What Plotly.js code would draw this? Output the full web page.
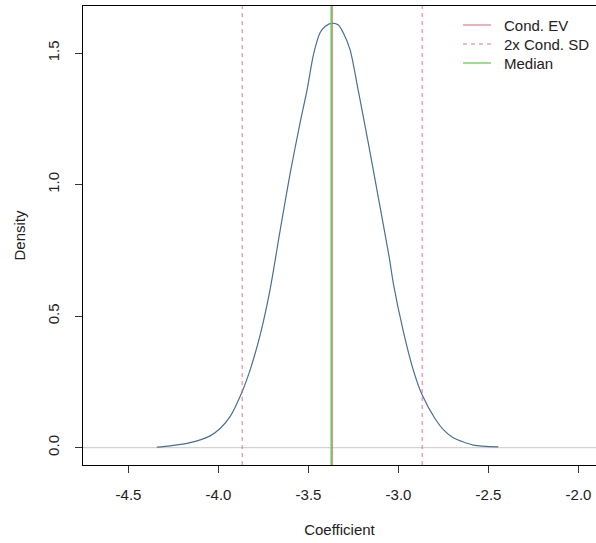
<!DOCTYPE html>
<html>
<head>
<meta charset="utf-8">
<script src="https://cdn.plot.ly/plotly-3.0.1.min.js"></script>
<style>html,body{margin:0;padding:0;background:#fff;}#chart{width:596px;height:543px;}</style>
</head>
<body>
<div id="chart"></div>
<script>
// Density curve
var coefX = [-4.343, -4.269, -4.158, -4.047, -3.990, -3.936, -3.869, -3.825, -3.769, -3.714, -3.658, -3.603, -3.547, -3.508, -3.473, -3.436, -3.408, -3.371, -3.334, -3.307, -3.269, -3.223, -3.158, -3.103, -3.051, -3.029, -2.973, -2.918, -2.871, -2.797, -2.750, -2.696, -2.585, -2.446];
var densY = [0.002, 0.007, 0.019, 0.045, 0.074, 0.118, 0.213, 0.295, 0.428, 0.600, 0.825, 1.040, 1.235, 1.360, 1.493, 1.577, 1.601, 1.614, 1.607, 1.577, 1.512, 1.355, 1.122, 0.916, 0.721, 0.625, 0.441, 0.295, 0.204, 0.110, 0.068, 0.038, 0.010, 0.003];
var condEV = -3.368;
var condSD = 0.25;
var median = -3.374;
var legendNames = ["Cond. EV", "2x Cond. SD", "Median"];
var xTickVals = [-4.5, -4.0, -3.5, -3.0, -2.5, -2.0];
var xTickText = ["-4.5", "-4.0", "-3.5", "-3.0", "-2.5", "-2.0"];
var yTickVals = [0, 0.5, 1.0, 1.5];
var yTickText = ["0.0", "0.5", "1.0", "1.5"];
var xRange = [-4.753, -1.903];
var yRange = [-0.0658, 1.679];

var font = {family: "Liberation Sans, Arial, sans-serif", size: 15, color: "#222"};
var evColor = "rgba(223,83,107,0.7)";
var sdColor = "rgba(223,83,107,0.55)";
var medColor = "#62cf4f";

var traces = [
  {x: coefX, y: densY, type: "scatter", mode: "lines", line: {color: "#4a6f96", width: 1.2, shape: "spline", smoothing: 0.7}, showlegend: false, hoverinfo: "skip"},
  {x: [condEV, condEV], y: yRange, type: "scatter", mode: "lines", name: legendNames[0], showlegend: false, line: {color: evColor, width: 1.3}},
  {x: [condEV - 2 * condSD, condEV - 2 * condSD, null, condEV + 2 * condSD, condEV + 2 * condSD], y: [yRange[0], yRange[1], null, yRange[0], yRange[1]], type: "scatter", mode: "lines", name: legendNames[1], showlegend: false, line: {color: sdColor, width: 1.5, dash: "4px,4px"}},
  {x: [median, median], y: yRange, type: "scatter", mode: "lines", name: legendNames[2], showlegend: false, line: {color: medColor, width: 1.5}}
];

// manual legend (R-style)
var legY = [0.9586, 0.9172, 0.8758];
var legStyles = [
  {color: evColor, width: 1.3},
  {color: sdColor, width: 1.5, dash: "4px,4px"},
  {color: medColor, width: 1.3}
];
var shapes = [
  {type: "line", xref: "paper", x0: 0, x1: 1, yref: "y", y0: 0, y1: 0, line: {color: "#d3d3d3", width: 1.2}, layer: "below"}
];
var annotations = [];
for (var i = 0; i < legendNames.length; i++) {
  shapes.push({type: "line", xref: "paper", yref: "paper", x0: 0.7407, x1: 0.7953, y0: legY[i], y1: legY[i], line: legStyles[i]});
  annotations.push({xref: "paper", yref: "paper", x: 0.817, y: legY[i], xanchor: "left", yanchor: "middle", text: legendNames[i], showarrow: false, font: font});
}

var layout = {
  width: 596, height: 543,
  margin: {l: 83, r: 0, t: 6, b: 78, pad: 0},
  paper_bgcolor: "#fff", plot_bgcolor: "#fff",
  font: font,
  showlegend: false,
  xaxis: {
    range: xRange, showgrid: false, zeroline: false,
    showline: true, linecolor: "#000", linewidth: 1, mirror: true,
    ticks: "outside", ticklen: 7, tickcolor: "#333", tickwidth: 1,
    tickvals: xTickVals, ticktext: xTickText, tickfont: font, ticklabelstandoff: 9,
    title: {text: "Coefficient", font: font, standoff: 22}
  },
  yaxis: {
    range: yRange, showgrid: false, zeroline: false,
    showline: true, linecolor: "#000", linewidth: 1, mirror: false,
    ticks: "outside", ticklen: 7, tickcolor: "#333", tickwidth: 1,
    tickvals: yTickVals, ticktext: yTickText, tickfont: font, tickangle: -90, ticklabelstandoff: 10,
    title: {text: "Density", font: font, standoff: 15}
  },
  shapes: shapes,
  annotations: annotations
};

Plotly.newPlot("chart", traces, layout, {displayModeBar: false, staticPlot: true});
</script>
</body>
</html>
